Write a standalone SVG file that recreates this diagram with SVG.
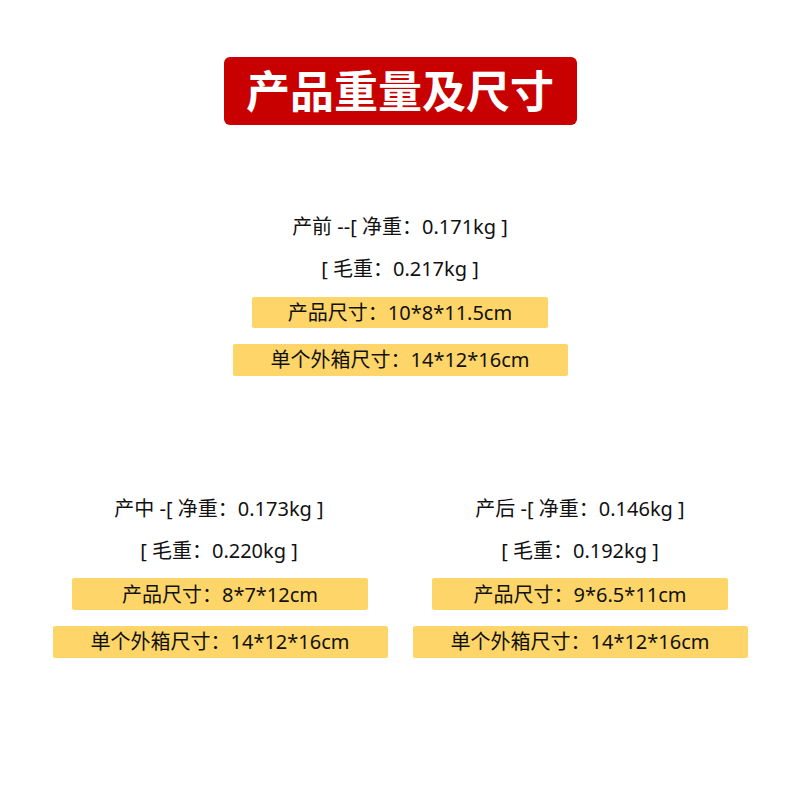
<svg xmlns="http://www.w3.org/2000/svg" width="800" height="800" viewBox="0 0 800 800">
<style>
.t{font-family:"Noto Sans","Noto Sans CJK SC",sans-serif;font-size:20px;fill:#111;text-anchor:middle}
.y{fill:#fdd568}
</style>
<rect width="800" height="800" fill="#fff"/>
<g id="title">
<rect x="224" y="57" width="353" height="68" rx="6" fill="#c80000"/>
<text x="400" y="108" style="font-family:'Noto Sans CJK SC',sans-serif;font-size:44px;font-weight:bold;fill:#fff;text-anchor:middle">产品重量及尺寸</text>
</g>
<g id="front">
<text class="t" x="400" y="234">产前 --[ 净重：0.171kg ]</text>
<text class="t" x="400" y="276">[ 毛重：0.217kg ]</text>
<rect class="y" x="252" y="297" width="296" height="31" rx="2"/>
<text class="t" x="400" y="320">产品尺寸：10*8*11.5cm</text>
<rect class="y" x="233" y="344" width="335" height="32" rx="2"/>
<text class="t" x="400" y="367">单个外箱尺寸：14*12*16cm</text>
</g>
<g id="middle">
<text class="t" x="219" y="516">产中 -[ 净重：0.173kg ]</text>
<text class="t" x="219" y="558">[ 毛重：0.220kg ]</text>
<rect class="y" x="72" y="578" width="296" height="32" rx="2"/>
<text class="t" x="220" y="602">产品尺寸：8*7*12cm</text>
<rect class="y" x="53" y="626" width="335" height="32" rx="2"/>
<text class="t" x="220" y="649">单个外箱尺寸：14*12*16cm</text>
</g>
<g id="back">
<text class="t" x="580" y="516">产后 -[ 净重：0.146kg ]</text>
<text class="t" x="580" y="558">[ 毛重：0.192kg ]</text>
<rect class="y" x="432" y="578" width="296" height="32" rx="2"/>
<text class="t" x="580" y="602">产品尺寸：9*6.5*11cm</text>
<rect class="y" x="413" y="626" width="335" height="32" rx="2"/>
<text class="t" x="580" y="649">单个外箱尺寸：14*12*16cm</text>
</g>
</svg>
